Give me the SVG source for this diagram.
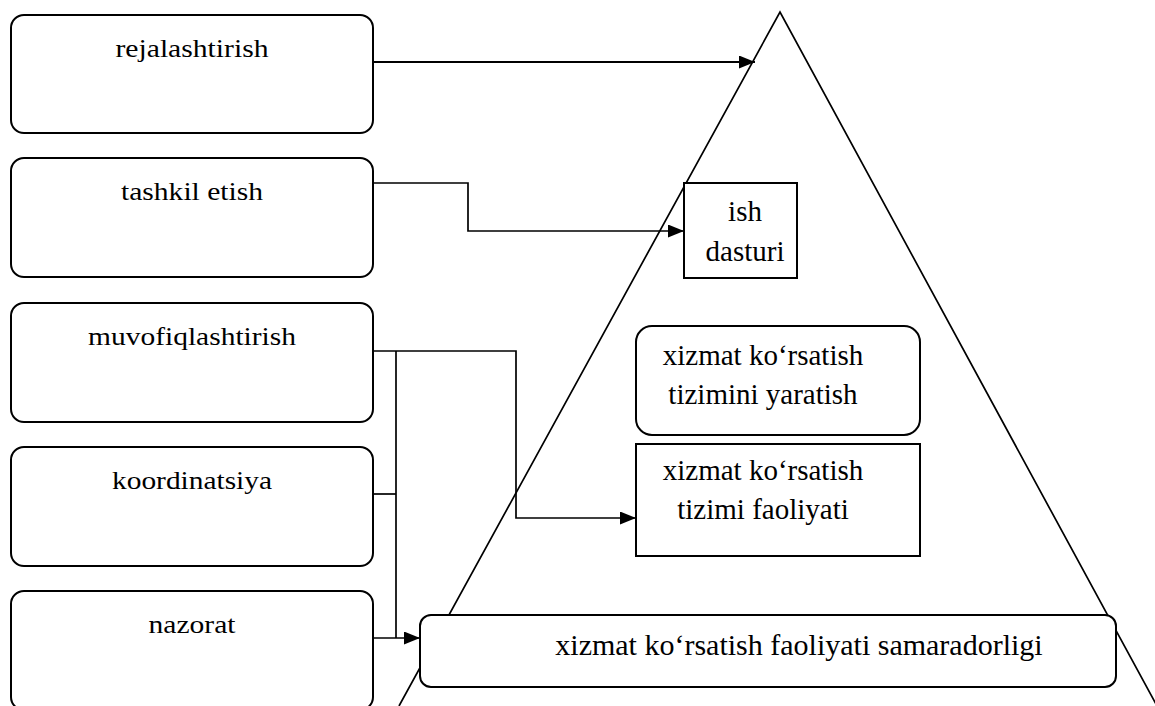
<svg xmlns="http://www.w3.org/2000/svg" width="1155" height="706" viewBox="0 0 1155 706">
<style>
.box{fill:#fff;stroke:#000;stroke-width:2}
.lbl{font-family:'Liberation Serif','Times New Roman',serif;font-size:26px;fill:#000;text-anchor:middle}
.txt{font-family:'Liberation Serif','Times New Roman',serif;font-size:29px;fill:#000;text-anchor:middle}
.con{fill:none;stroke:#000;stroke-width:1.7}
.tri{fill:none;stroke:#000;stroke-width:1.7}
</style>
<defs>
<marker id="ah" viewBox="0 0 16 13" refX="16" refY="6.5" markerWidth="16" markerHeight="13" markerUnits="userSpaceOnUse" orient="auto">
<path d="M0,0 L16,6.5 L0,13 Z" fill="#000"/>
</marker>
</defs>
<rect width="1155" height="706" fill="#fff"/>
<g id="left-boxes">
<g id="n-rejalashtirish"><rect class="box" x="11" y="15" width="362" height="118" rx="13"/><text class="lbl" x="192" y="57" textLength="153" lengthAdjust="spacingAndGlyphs">rejalashtirish</text></g>
<g id="n-tashkil"><rect class="box" x="11" y="158" width="362" height="119" rx="13"/><text class="lbl" x="192" y="200" textLength="142" lengthAdjust="spacingAndGlyphs">tashkil etish</text></g>
<g id="n-muvofiq"><rect class="box" x="11" y="303" width="362" height="119" rx="13"/><text class="lbl" x="192" y="345" textLength="208" lengthAdjust="spacingAndGlyphs">muvofiqlashtirish</text></g>
<g id="n-koordinatsiya"><rect class="box" x="11" y="447" width="362" height="119" rx="13"/><text class="lbl" x="192" y="489" textLength="160" lengthAdjust="spacingAndGlyphs">koordinatsiya</text></g>
<g id="n-nazorat"><rect class="box" x="11" y="591" width="362" height="119" rx="13"/><text class="lbl" x="192" y="633" textLength="87" lengthAdjust="spacingAndGlyphs">nazorat</text></g>
</g>
<g id="triangle"><path class="tri" d="M399,706 L780,12 L1157,706"/></g>
<g id="connectors">
<path class="con" d="M373,62 H755" marker-end="url(#ah)" style="stroke-width:2"/>
<path class="con" d="M373,183 H468 V231 H684" marker-end="url(#ah)"/>
<path class="con" d="M373,351 H516 V518 H636" marker-end="url(#ah)"/>
<path class="con" d="M396,351 V638"/>
<path class="con" d="M373,494 H396"/>
<path class="con" d="M373,638 H420" marker-end="url(#ah)"/>
</g>
<g id="n-ish"><rect class="box" x="684" y="183" width="113" height="95"/><text class="txt" x="745" y="221">ish</text><text class="txt" x="745" y="261">dasturi</text></g>
<g id="n-yaratish"><rect class="box" x="636" y="326" width="284" height="109" rx="16"/><text class="txt" x="763" y="365">xizmat ko‘rsatish</text><text class="txt" x="763" y="404">tizimini yaratish</text></g>
<g id="n-faoliyati"><rect class="box" x="636" y="444" width="284" height="112"/><text class="txt" x="763" y="480">xizmat ko‘rsatish</text><text class="txt" x="763" y="519">tizimi faoliyati</text></g>
<g id="n-samaradorlik"><rect class="box" x="420" y="615" width="696" height="72" rx="11"/><text class="txt" x="799" y="655" style="font-size:30px">xizmat ko‘rsatish faoliyati samaradorligi</text></g>
</svg>
